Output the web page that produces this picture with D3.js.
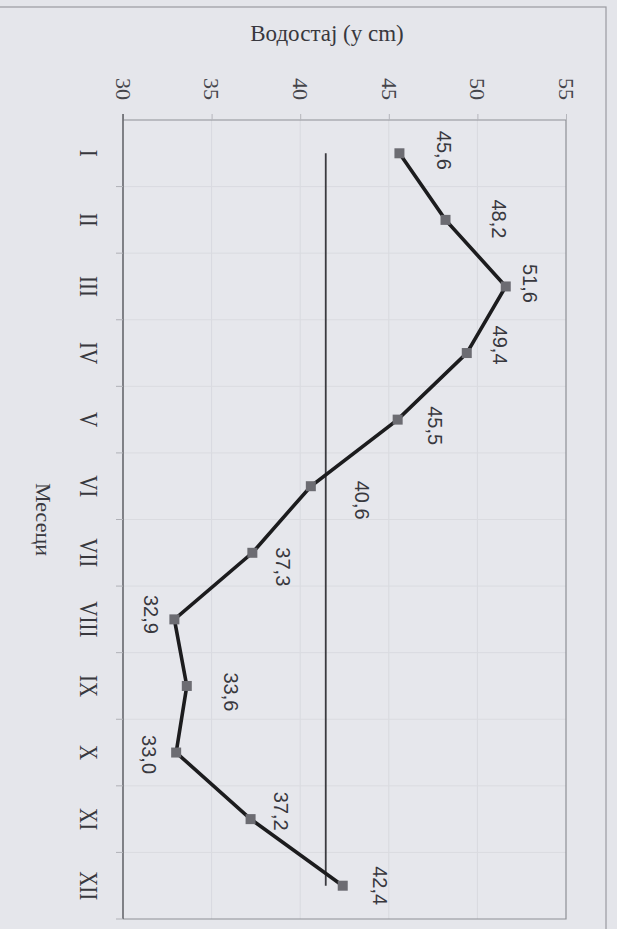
<!DOCTYPE html>
<html><head><meta charset="utf-8">
<script src="https://cdn.jsdelivr.net/npm/d3@7"></script>
<style>
html,body{margin:0;padding:0;background:#e4e5ea;}
svg{display:block;}
</style></head>
<body>
<svg id="chart" width="617" height="929"></svg>
<script>
// ---- data ----
const months = ["I","II","III","IV","V","VI","VII","VIII","IX","X","XI","XII"];
const waterLevel = [45.6,48.2,51.6,49.4,45.5,40.6,37.3,32.9,33.6,33.0,37.2,42.4];
const valueTicks = [30,35,40,45,50,55];
const valueTitle = "Водостај (у cm)";
const categoryTitle = "Месеци";

// ---- layout (label nudges relative to markers, in px) ----
const labelNudge = [[45,-3],[53,-1],[24,-3],[33,-8],[37,6],[51,14],[31,14],[-23,-5],[44,6],[-27,2],[30,-8],[37,0]];

const svg = d3.select("#chart");
const W = 617, H = 929;
const plot = {left:123, right:566, top:120, bottom:919};
const serif = "'Liberation Serif','Times New Roman',serif";

const x = d3.scaleLinear().domain([30,55]).range([plot.left, plot.right]);
const y = d3.scaleBand().domain(months).range([plot.top, plot.bottom]).paddingInner(0).paddingOuter(0);
const bw = y.bandwidth();

// outer chart frame
svg.append("rect").attr("x",-5).attr("y",7).attr("width",611).attr("height",H+10)
  .attr("fill","#e5e6eb").attr("stroke","#9a9aa0").attr("stroke-width",1.2);

// plot area
svg.append("rect").attr("x",plot.left).attr("y",plot.top)
  .attr("width",plot.right-plot.left).attr("height",plot.bottom-plot.top)
  .attr("fill","#e6e7ec").attr("stroke","none");

// gridlines: vertical at value ticks
svg.append("g").selectAll("line").data(valueTicks.slice(1,-1)).join("line")
  .attr("x1",d=>x(d)).attr("x2",d=>x(d)).attr("y1",plot.top).attr("y2",plot.bottom)
  .attr("stroke","#d8d9df").attr("stroke-width",1);
// gridlines: horizontal at category boundaries
svg.append("g").selectAll("line").data(months.slice(1)).join("line")
  .attr("x1",plot.left).attr("x2",plot.right).attr("y1",d=>y(d)).attr("y2",d=>y(d))
  .attr("stroke","#dadbe0").attr("stroke-width",1);

// plot border (top/right/bottom)
svg.append("path")
  .attr("d",`M${plot.left},${plot.top}H${plot.right}V${plot.bottom}H${plot.left}`)
  .attr("fill","none").attr("stroke","#8e8f95").attr("stroke-width",1.2);

// value axis (top)
const xAxis = d3.axisTop(x).tickValues(valueTicks).tickSize(6).tickSizeOuter(0).tickFormat(d3.format("d"));
const gx = svg.append("g").attr("transform",`translate(0,${plot.top})`).call(xAxis);
gx.select(".domain").remove();
gx.selectAll(".tick line").attr("stroke","#b5b6bc");
gx.selectAll(".tick text")
  .attr("x",0).attr("y",0).attr("dy","0.35em")
  .attr("transform","translate(0,-31) rotate(90)")
  .attr("text-anchor","middle")
  .attr("font-family",serif)
  .attr("font-size",22).attr("fill","#45454b");

// category axis (left)
const yAxis = d3.axisLeft(y).tickSize(0).tickSizeOuter(0);
const gy = svg.append("g").attr("transform",`translate(${plot.left},0)`).call(yAxis);
gy.select(".domain").attr("stroke","#66676d").attr("stroke-width",1.6)
  .attr("d",`M0,${plot.top-6}V${plot.bottom}`);
gy.selectAll(".tick text")
  .attr("x",0).attr("y",0).attr("dy","0.35em")
  .attr("transform","translate(-35,0) rotate(90) scale(1,1.15)")
  .attr("text-anchor","middle")
  .attr("font-family",serif)
  .attr("font-size",21).attr("fill","#38383e");
// category boundary ticks
gy.append("g").selectAll("line").data(months.slice(1).concat(["__end"])).join("line")
  .attr("x1",-7).attr("x2",0)
  .attr("y1",d=>d==="__end"?plot.bottom:y(d)).attr("y2",d=>d==="__end"?plot.bottom:y(d))
  .attr("stroke","#b0b1b7").attr("stroke-width",1);

// titles
svg.append("text").attr("x",327).attr("y",33).attr("dy","0.35em")
  .attr("text-anchor","middle")
  .attr("font-family",serif)
  .attr("font-size",23).attr("fill","#38383e").text(valueTitle);
svg.append("text")
  .attr("transform",`translate(44,${(plot.top+plot.bottom)/2}) rotate(90)`)
  .attr("dy","0.35em").attr("text-anchor","middle")
  .attr("font-family",serif)
  .attr("font-size",22).attr("fill","#38383e").text(categoryTitle);

// mean line
const mean = d3.mean(waterLevel);
svg.append("line")
  .attr("x1",x(mean)).attr("x2",x(mean))
  .attr("y1",y(months[0])+bw/2).attr("y2",y(months[months.length-1])+bw/2)
  .attr("stroke","#3a3a3f").attr("stroke-width",1.8);

// data line
const pts = months.map((m,i)=>({m, v:waterLevel[i], i}));
const line = d3.line().x(d=>x(d.v)).y(d=>y(d.m)+bw/2);
svg.append("path").datum(pts).attr("d",line)
  .attr("fill","none").attr("stroke","#1c1c1e").attr("stroke-width",3.6)
  .attr("stroke-linejoin","miter");

// markers
svg.append("g").selectAll("rect").data(pts).join("rect")
  .attr("x",d=>x(d.v)-5).attr("y",d=>y(d.m)+bw/2-5)
  .attr("width",10).attr("height",10)
  .attr("fill","#6c6c72");

// data labels
const fmt = v => d3.format(".1f")(v).replace(".",",");
svg.append("g").selectAll("text").data(pts).join("text")
  .attr("transform",d=>`translate(${x(d.v)+labelNudge[d.i][0]},${y(d.m)+bw/2+labelNudge[d.i][1]}) rotate(90)`)
  .attr("dy","0.35em").attr("text-anchor","middle")
  .attr("font-family","'Liberation Sans',Arial,sans-serif")
  .attr("font-size",20).attr("fill","#38383e")
  .text(d=>fmt(d.v));
</script>
</body></html>
